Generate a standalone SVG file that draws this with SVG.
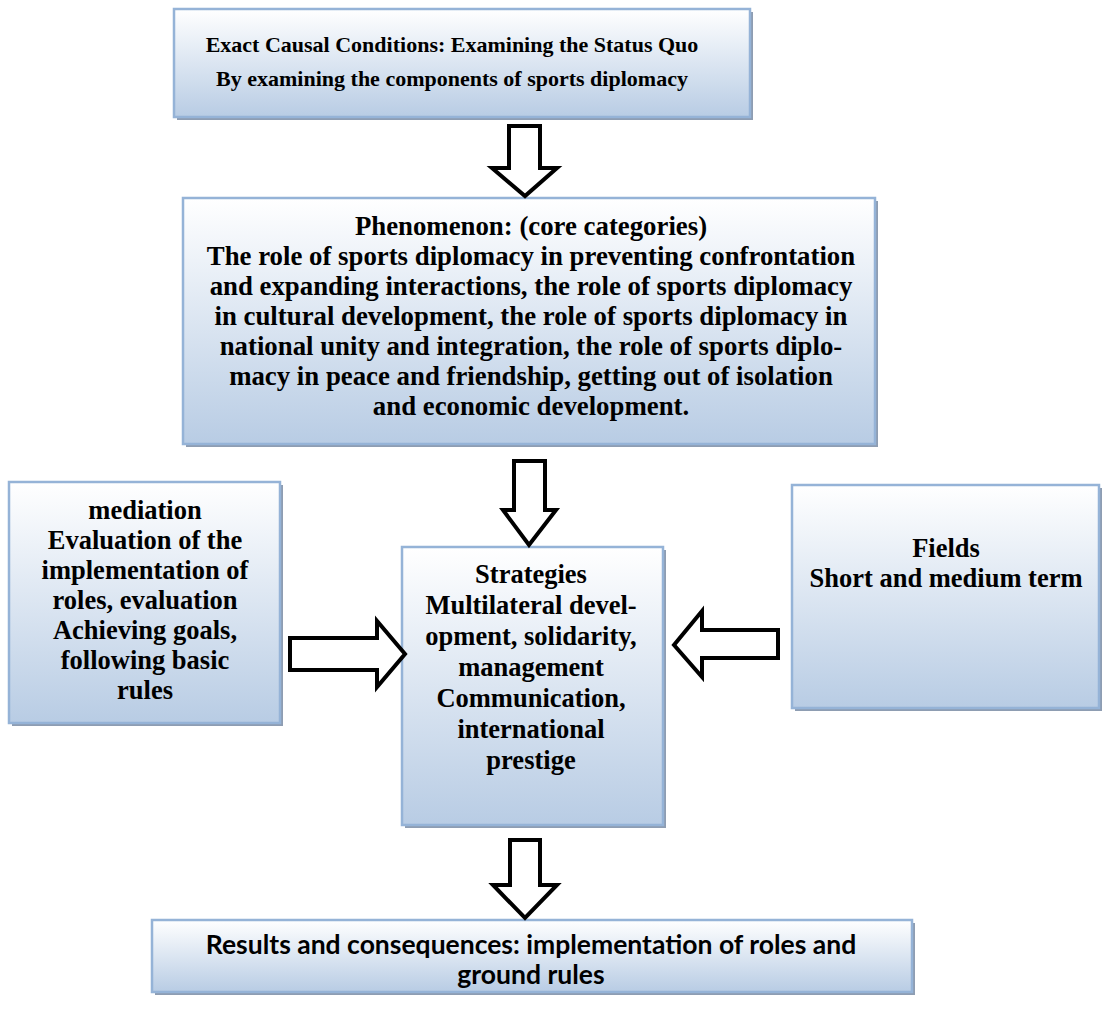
<svg xmlns="http://www.w3.org/2000/svg" width="1113" height="1015" viewBox="0 0 1113 1015">
<defs>
<linearGradient id="fill" x1="0" y1="0" x2="0" y2="1">
<stop offset="0" stop-color="#ffffff"/>
<stop offset="1" stop-color="#b8cce4"/>
</linearGradient>
<style>
.shadow{fill:#8e9db2}
.box{fill:url(#fill);stroke:#95b3d7;stroke-width:2.5}
.t{font-family:"Liberation Serif","Times New Roman",serif;font-weight:bold;font-size:26.5px;fill:#000;text-anchor:middle}
.top{font-size:22px}
.ph{font-size:26.8px}
.c{font-family:Lato,"Liberation Sans",sans-serif;font-weight:bold;font-size:26.5px;fill:#000;text-anchor:middle}
.arr{fill:#fff;stroke:#000;stroke-width:4;stroke-linejoin:miter}
</style>
</defs>
<rect width="1113" height="1015" fill="#fff"/>

<g id="causal">
<rect class="shadow" x="177" y="12" width="576" height="108"/>
<rect class="box" x="174" y="9" width="576" height="108"/>
<text class="t top" x="452" y="52">Exact Causal Conditions: Examining the Status Quo</text>
<text class="t top" x="452" y="86">By examining the components of sports diplomacy</text>
</g>

<g id="phenomenon">
<rect class="shadow" x="186" y="201" width="692" height="246"/>
<rect class="box" x="183" y="198" width="692" height="246"/>
<text class="t ph" x="531" y="235">Phenomenon: (core categories)</text>
<text class="t ph" x="531" y="265">The role of sports diplomacy in preventing confrontation</text>
<text class="t ph" x="531" y="295">and expanding interactions, the role of sports diplomacy</text>
<text class="t ph" x="531" y="325">in cultural development, the role of sports diplomacy in</text>
<text class="t ph" x="531" y="355">national unity and integration, the role of sports diplo-</text>
<text class="t ph" x="531" y="385">macy in peace and friendship, getting out of isolation</text>
<text class="t ph" x="531" y="415">and economic development.</text>
</g>

<g id="mediation">
<rect class="shadow" x="12" y="485" width="271" height="241"/>
<rect class="box" x="9" y="482" width="271" height="241"/>
<text class="t" x="145" y="519">mediation</text>
<text class="t" x="145" y="549">Evaluation of the</text>
<text class="t" x="145" y="579">implementation of</text>
<text class="t" x="145" y="609">roles, evaluation</text>
<text class="t" x="145" y="639">Achieving goals,</text>
<text class="t" x="145" y="669">following basic</text>
<text class="t" x="145" y="699">rules</text>
</g>

<g id="strategies">
<rect class="shadow" x="405" y="550" width="261" height="278"/>
<rect class="box" x="402" y="547" width="261" height="278"/>
<text class="t" x="531" y="583">Strategies</text>
<text class="t" x="531" y="614">Multilateral devel-</text>
<text class="t" x="531" y="645">opment, solidarity,</text>
<text class="t" x="531" y="676">management</text>
<text class="t" x="531" y="707">Communication,</text>
<text class="t" x="531" y="738">international</text>
<text class="t" x="531" y="769">prestige</text>
</g>

<g id="fields">
<rect class="shadow" x="795" y="488" width="307" height="223"/>
<rect class="box" x="792" y="485" width="307" height="223"/>
<text class="t" x="946" y="557">Fields</text>
<text class="t" x="946" y="587">Short and medium term</text>
</g>

<g id="results">
<rect class="shadow" x="155" y="923" width="760" height="72"/>
<rect class="box" x="152" y="920" width="760" height="72"/>
<text class="c" x="531" y="954">Results and consequences: implementation of roles and</text>
<text class="c" x="531" y="984">ground rules</text>
</g>

<g id="connectors">
<polygon class="arr" points="509,126 540,126 540,168 557,168 525,196 492,168 509,168"/>
<polygon class="arr" points="514,461 545,461 545,510 556,510 529,545 503,510 514,510"/>
<polygon class="arr" points="510,840 540,840 540,885 557,885 525,918 493,885 510,885"/>
<polygon class="arr" points="290,638 377,638 377,621 405,654 377,687 377,670 290,670"/>
<polygon class="arr" points="778,630 702,630 702,611 674,645 702,677 702,658 778,658"/>
</g>
</svg>
